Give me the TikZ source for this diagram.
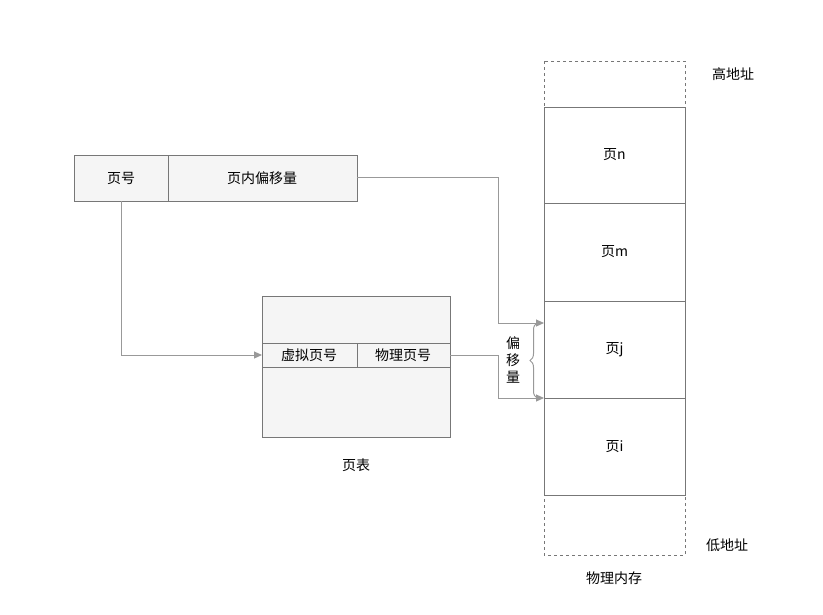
\documentclass[tikz,border=0pt]{standalone}
\usepackage{fontspec}
\setmainfont{Noto Sans CJK SC}
\usetikzlibrary{arrows.meta,decorations.pathreplacing}
\definecolor{boxfill}{HTML}{F5F5F5}
\definecolor{boxline}{HTML}{777777}
\definecolor{wire}{HTML}{999999}
\tikzset{
  cell/.style={draw=boxline,fill=boxfill,inner sep=0pt},
  memcell/.style={draw=boxline,fill=white},
  link/.style={draw=wire,-{Triangle[length=8pt,width=7pt]}},
  lbl/.style={font=\fontsize{14pt}{17pt}\selectfont,text=black}
}
\begin{document}
\begin{tikzpicture}[x=1pt,y=-1pt,line width=1pt]
	\useasboundingbox (0,0) rectangle (823,614);
	% Adresse
	\draw[cell] (74,155) rectangle (357,201);
	\draw[boxline] (168,155) -- (168,201);
	\node[lbl] (pnum) at (121,178) {页号};
	\node[lbl] (poff) at (262,178) {页内偏移量};
	\coordinate (pnumbot) at (121,201);
	\coordinate (poffend) at (357,177);
	% Seitentabelle
	\draw[cell] (262,296) rectangle (450,437);
	\draw[boxline] (262,343) -- (450,343);
	\draw[boxline] (262,367) -- (450,367);
	\draw[boxline] (357,343) -- (357,367);
	\node[lbl] (vpn) at (309,355) {虚拟页号};
	\node[lbl] (ppn) at (403,355) {物理页号};
	\node[lbl] (tab) at (356,465) {页表};
	\coordinate (tabin) at (262,355);
	\coordinate (tabout) at (450,355);
	% Speicher
	\draw[boxline,dashed] (544,61) rectangle (685,555);
	\foreach \top/\bot/\name/\txt in {107/203/pn/页n,203/301/pm/页m,301/398/pj/页j,398/495/pi/页i}{
		\draw[memcell] (544,\top) rectangle (685,\bot);
		\node[lbl] (\name) at (614.5,{(\top+\bot)/2}) {\txt};
	}
	\coordinate (jtop) at (544,323);
	\coordinate (jbot) at (544,398);
	\node[lbl] (high) at (733,74) {高地址};
	\node[lbl] (low) at (727,545) {低地址};
	\node[lbl] (mem) at (614,578) {物理内存};
	%Pfeile
	\draw[link] (pnumbot) |- (tabin);
	\draw[link] (poffend) -- (498,177) |- (jtop);
	\draw[link] (tabout) -- (498,355) |- (jbot);
	\draw[wire,decorate,decoration={brace,amplitude=7pt}] (537,398) -- (537,323);
	\node[lbl,align=center,inner sep=0pt] (offs) at (513,360) {偏\\移\\量};
\end{tikzpicture}
\end{document}
